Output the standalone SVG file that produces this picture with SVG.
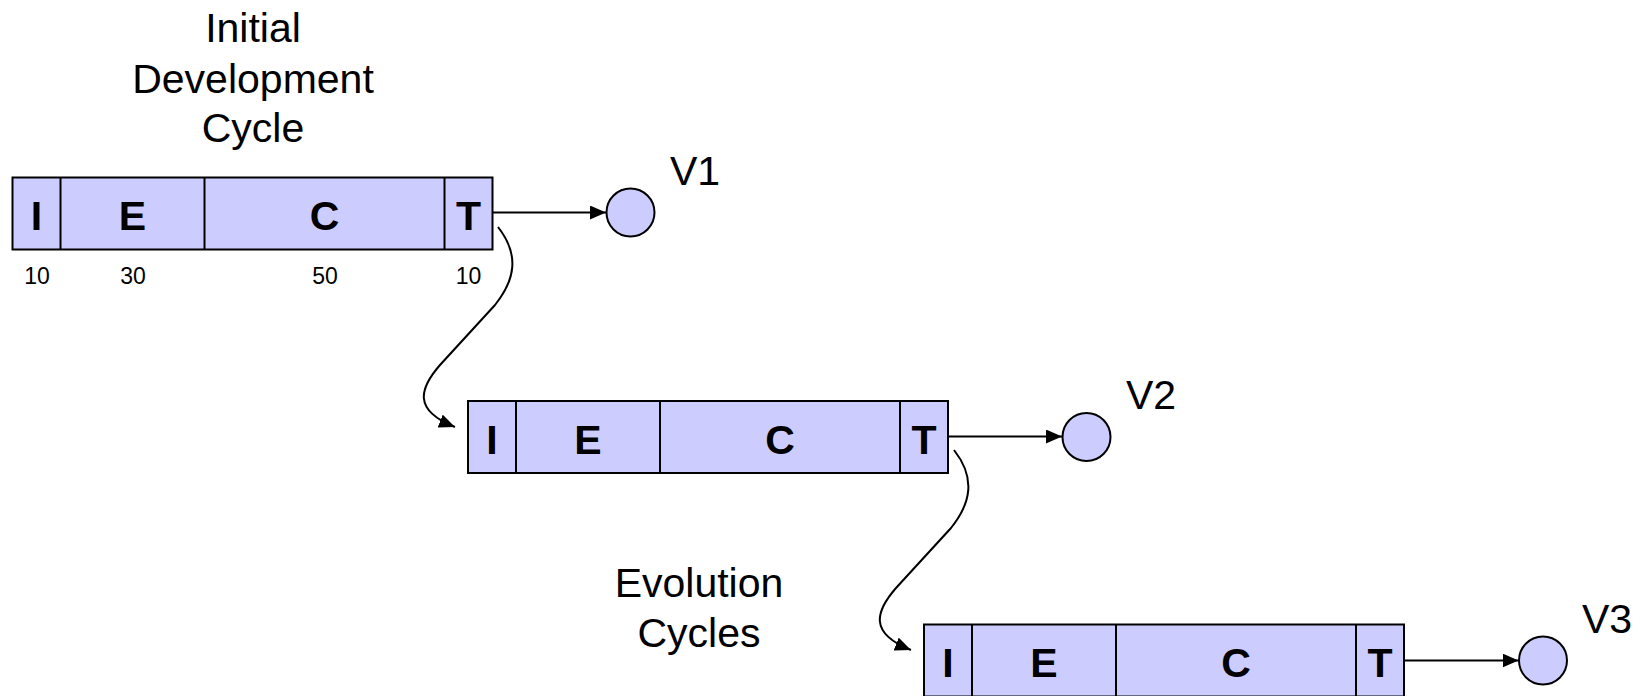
<svg xmlns="http://www.w3.org/2000/svg" width="1640" height="696" viewBox="0 0 1640 696">
<defs>
<style>
.box{fill:#CCCCFF;stroke:#000;stroke-width:2}
.div{stroke:#000;stroke-width:2}
.lt{font-family:"Liberation Sans",Arial,sans-serif;font-weight:bold;font-size:41px;text-anchor:middle;fill:#000}
.num{font-family:"Liberation Sans",Arial,sans-serif;font-size:23px;text-anchor:middle;fill:#000}
.lbl{font-family:"Liberation Sans",Arial,sans-serif;font-size:41px;text-anchor:middle;fill:#000}
.vl{font-family:"Liberation Sans",Arial,sans-serif;font-size:41px;fill:#000}
.ver{fill:#CCCCFF;stroke:#000;stroke-width:2}
.con{fill:none;stroke:#000;stroke-width:2}
</style>
<marker id="ah" markerWidth="16" markerHeight="14" refX="16" refY="7" orient="auto" markerUnits="userSpaceOnUse">
<path d="M0,0 L16,7 L0,14 Z" fill="#000"/>
</marker>
<g id="cycle">
<rect class="box" x="0" y="0" width="480" height="72"/>
<line class="div" x1="48" y1="0" x2="48" y2="72"/>
<line class="div" x1="192" y1="0" x2="192" y2="72"/>
<line class="div" x1="432" y1="0" x2="432" y2="72"/>
<text class="lt" x="24" y="52.5">I</text>
<text class="lt" x="120" y="52.5">E</text>
<text class="lt" x="312" y="52.5">C</text>
<text class="lt" x="456" y="52.5">T</text>
</g>
</defs>

<g id="title">
<text class="lbl" x="253" y="41.5">Initial</text>
<text class="lbl" x="253" y="92.5">Development</text>
<text class="lbl" x="253" y="141.5">Cycle</text>
</g>

<g id="evolution-label">
<text class="lbl" x="699" y="596.5">Evolution</text>
<text class="lbl" x="699" y="646.5">Cycles</text>
</g>

<g id="cycle1">
<use href="#cycle" x="12.5" y="177.5"/>
<text class="num" x="37" y="283.5">10</text>
<text class="num" x="133" y="283.5">30</text>
<text class="num" x="325" y="283.5">50</text>
<text class="num" x="468.5" y="283.5">10</text>
</g>
<g id="cycle2">
<use href="#cycle" x="468" y="401"/>
</g>
<g id="cycle3">
<use href="#cycle" x="924" y="624.5"/>
</g>

<g id="v1">
<circle class="ver" cx="630.5" cy="212.5" r="24"/>
<text class="vl" x="670" y="184.5">V1</text>
</g>
<g id="v2">
<circle class="ver" cx="1086.5" cy="437" r="24"/>
<text class="vl" x="1126" y="409">V2</text>
</g>
<g id="v3">
<circle class="ver" cx="1543" cy="660.5" r="24"/>
<text class="vl" x="1582" y="633">V3</text>
</g>

<g id="connectors">
<line class="con" x1="492.5" y1="212.5" x2="606" y2="212.5" marker-end="url(#ah)"/>
<line class="con" x1="948" y1="436.5" x2="1062" y2="436.5" marker-end="url(#ah)"/>
<line class="con" x1="1404" y1="660.5" x2="1518.5" y2="660.5" marker-end="url(#ah)"/>
<path class="con" d="M498,227 C520,255 515,280 495,305 L440,365 C420,388 412,410 455,427" marker-end="url(#ah)"/>
<path class="con" d="M954,450 C976,478 971,503 951,528 L896,588 C876,611 868,633 911,650" marker-end="url(#ah)"/>
</g>
</svg>
